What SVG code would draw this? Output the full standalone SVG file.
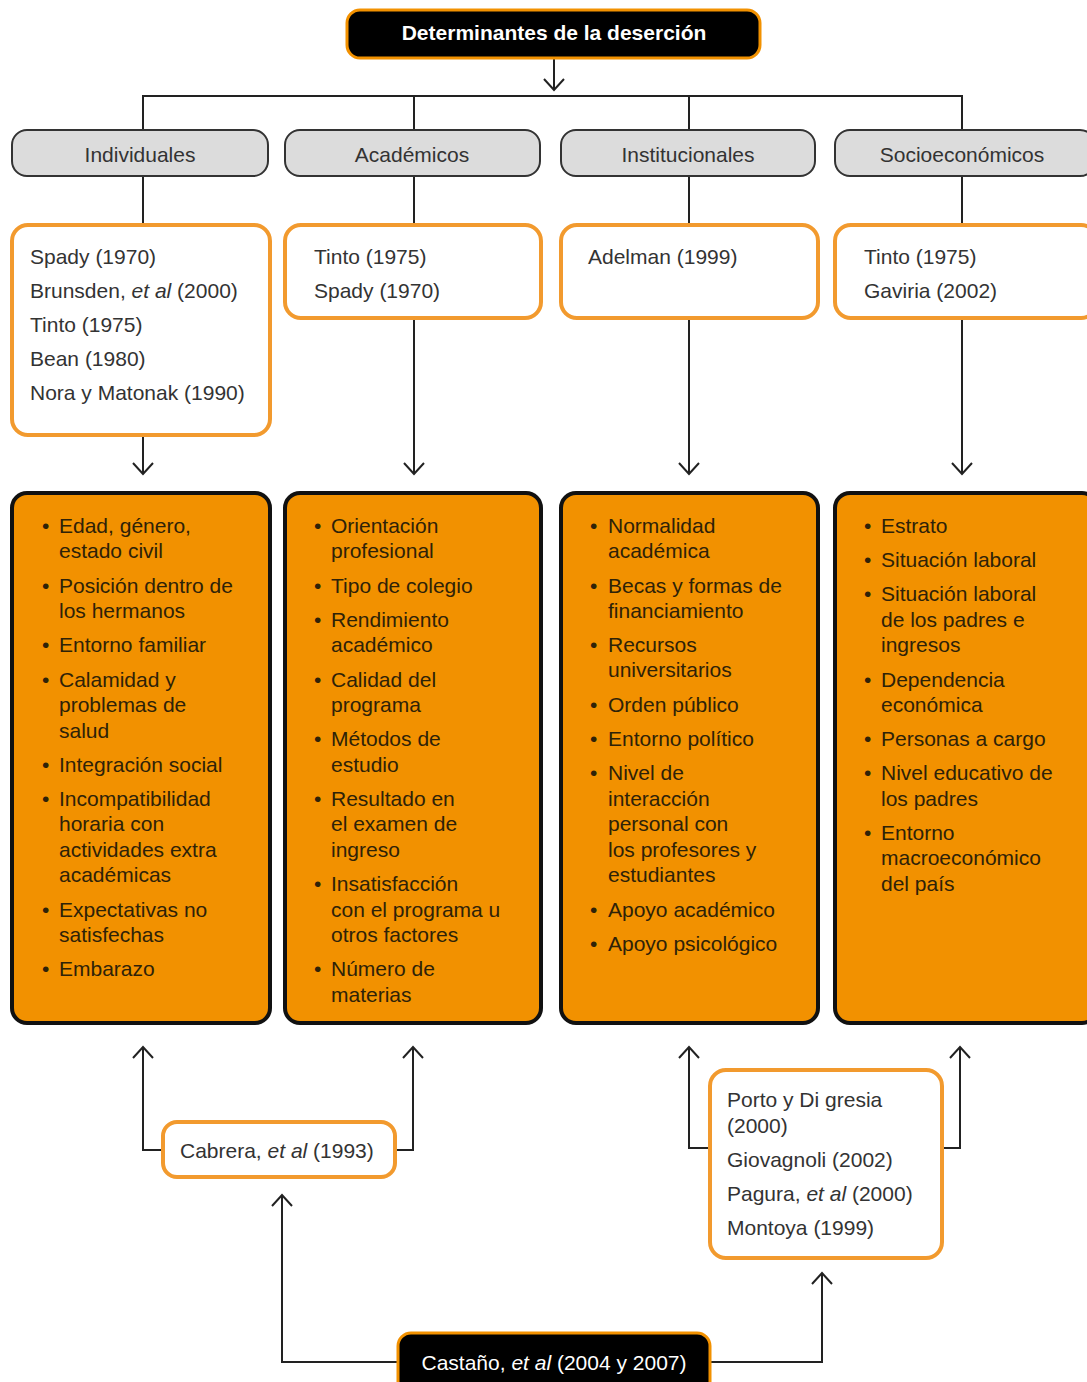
<svg xmlns="http://www.w3.org/2000/svg" width="1087" height="1382" viewBox="0 0 1087 1382">
<style>
text{font-family:"Liberation Sans",Arial,sans-serif;font-size:21px;}
.dark{fill:#000;stroke:#f29100;stroke-width:3;}
.cat{fill:#dcdcdc;stroke:#333;stroke-width:2;}
.ref{fill:#fff;stroke:#f29a2e;stroke-width:4;}
.det{fill:#f29100;stroke:#111;stroke-width:4;}
.wt{fill:#fff;}
.ct{fill:#333;text-anchor:middle;}
.rt{fill:#333;}
.dt{fill:#2e2208;}
.it{font-style:italic;}
.ln{fill:none;stroke:#222;stroke-width:2;}
</style>
<defs>
<marker id="ah" viewBox="-14 -12 16 24" markerWidth="16" markerHeight="24" refX="0" refY="0" orient="auto" markerUnits="userSpaceOnUse">
<path d="M-11,-10 L0,0 L-11,10" fill="none" stroke="#222" stroke-width="2"/>
</marker>
</defs>

<g id="connectors">
<path class="ln" d="M554,58 V90" marker-end="url(#ah)"/>
<path class="ln" d="M143,130 V96 H962 V130"/>
<path class="ln" d="M414,96 V130"/>
<path class="ln" d="M689,96 V130"/>
<path class="ln" d="M143,176 V225"/>
<path class="ln" d="M414,176 V225"/>
<path class="ln" d="M689,176 V225"/>
<path class="ln" d="M962,176 V225"/>
<path class="ln" d="M143,435 V474" marker-end="url(#ah)"/>
<path class="ln" d="M414,318 V474" marker-end="url(#ah)"/>
<path class="ln" d="M689,318 V474" marker-end="url(#ah)"/>
<path class="ln" d="M962,318 V474" marker-end="url(#ah)"/>
<path class="ln" d="M163,1150 H143 V1047" marker-end="url(#ah)"/>
<path class="ln" d="M395,1150 H413 V1047" marker-end="url(#ah)"/>
<path class="ln" d="M710,1148 H689 V1047" marker-end="url(#ah)"/>
<path class="ln" d="M942,1148 H960 V1047" marker-end="url(#ah)"/>
<path class="ln" d="M398,1362 H282 V1195" marker-end="url(#ah)"/>
<path class="ln" d="M710,1362 H822 V1273" marker-end="url(#ah)"/>
</g>

<g id="title">
<rect class="dark" x="347" y="10" width="413" height="48" rx="13"/>
<text class="wt" x="554" y="40" text-anchor="middle" font-weight="bold" font-size="21">Determinantes de la deserción</text>
</g>

<g id="cat-individuales">
<rect class="cat" x="12" y="130" width="256" height="46" rx="15"/>
<text class="ct" x="140" y="162">Individuales</text>
</g>
<g id="cat-academicos">
<rect class="cat" x="285" y="130" width="255" height="46" rx="15"/>
<text class="ct" x="412" y="162">Académicos</text>
</g>
<g id="cat-institucionales">
<rect class="cat" x="561" y="130" width="254" height="46" rx="15"/>
<text class="ct" x="688" y="162">Institucionales</text>
</g>
<g id="cat-socioeconomicos">
<rect class="cat" x="835" y="130" width="260" height="46" rx="15"/>
<text class="ct" x="962" y="162">Socioeconómicos</text>
</g>

<g id="ref-individuales">
<rect class="ref" x="12" y="225" width="258" height="210" rx="16"/>
<text class="rt" x="30" y="264">Spady (1970)</text>
<text class="rt" x="30" y="298">Brunsden, <tspan class="it">et al</tspan> (2000)</text>
<text class="rt" x="30" y="332">Tinto (1975)</text>
<text class="rt" x="30" y="366">Bean (1980)</text>
<text class="rt" x="30" y="400">Nora y Matonak (1990)</text>
</g>
<g id="ref-academicos">
<rect class="ref" x="285" y="225" width="256" height="93" rx="16"/>
<text class="rt" x="314" y="264">Tinto (1975)</text>
<text class="rt" x="314" y="298">Spady (1970)</text>
</g>
<g id="ref-institucionales">
<rect class="ref" x="561" y="225" width="257" height="93" rx="16"/>
<text class="rt" x="588" y="264">Adelman (1999)</text>
</g>
<g id="ref-socioeconomicos">
<rect class="ref" x="835" y="225" width="262" height="93" rx="16"/>
<text class="rt" x="864" y="264">Tinto (1975)</text>
<text class="rt" x="864" y="298">Gaviria (2002)</text>
</g>

<g id="det-individuales">
<rect class="det" x="12" y="493" width="258" height="530" rx="15"/>
<g class="dt">
<text x="42" y="533">•</text><text x="59" y="533">Edad, género,</text>
<text x="59" y="558">estado civil</text>
<text x="42" y="593">•</text><text x="59" y="593">Posición dentro de</text>
<text x="59" y="618">los hermanos</text>
<text x="42" y="652">•</text><text x="59" y="652">Entorno familiar</text>
<text x="42" y="687">•</text><text x="59" y="687">Calamidad y</text>
<text x="59" y="712">problemas de</text>
<text x="59" y="738">salud</text>
<text x="42" y="772">•</text><text x="59" y="772">Integración social</text>
<text x="42" y="806">•</text><text x="59" y="806">Incompatibilidad</text>
<text x="59" y="831">horaria con</text>
<text x="59" y="857">actividades extra</text>
<text x="59" y="882">académicas</text>
<text x="42" y="917">•</text><text x="59" y="917">Expectativas no</text>
<text x="59" y="942">satisfechas</text>
<text x="42" y="976">•</text><text x="59" y="976">Embarazo</text>
</g>
</g>

<g id="det-academicos">
<rect class="det" x="285" y="493" width="256" height="530" rx="15"/>
<g class="dt">
<text x="314" y="533">•</text><text x="331" y="533">Orientación</text>
<text x="331" y="558">profesional</text>
<text x="314" y="593">•</text><text x="331" y="593">Tipo de colegio</text>
<text x="314" y="627">•</text><text x="331" y="627">Rendimiento</text>
<text x="331" y="652">académico</text>
<text x="314" y="687">•</text><text x="331" y="687">Calidad del</text>
<text x="331" y="712">programa</text>
<text x="314" y="746">•</text><text x="331" y="746">Métodos de</text>
<text x="331" y="772">estudio</text>
<text x="314" y="806">•</text><text x="331" y="806">Resultado en</text>
<text x="331" y="831">el examen de</text>
<text x="331" y="857">ingreso</text>
<text x="314" y="891">•</text><text x="331" y="891">Insatisfacción</text>
<text x="331" y="917">con el programa u</text>
<text x="331" y="942">otros factores</text>
<text x="314" y="976">•</text><text x="331" y="976">Número de</text>
<text x="331" y="1002">materias</text>
</g>
</g>

<g id="det-institucionales">
<rect class="det" x="561" y="493" width="257" height="530" rx="15"/>
<g class="dt">
<text x="590" y="533">•</text><text x="608" y="533">Normalidad</text>
<text x="608" y="558">académica</text>
<text x="590" y="593">•</text><text x="608" y="593">Becas y formas de</text>
<text x="608" y="618">financiamiento</text>
<text x="590" y="652">•</text><text x="608" y="652">Recursos</text>
<text x="608" y="677">universitarios</text>
<text x="590" y="712">•</text><text x="608" y="712">Orden público</text>
<text x="590" y="746">•</text><text x="608" y="746">Entorno político</text>
<text x="590" y="780">•</text><text x="608" y="780">Nivel de</text>
<text x="608" y="806">interacción</text>
<text x="608" y="831">personal con</text>
<text x="608" y="857">los profesores y</text>
<text x="608" y="882">estudiantes</text>
<text x="590" y="917">•</text><text x="608" y="917">Apoyo académico</text>
<text x="590" y="951">•</text><text x="608" y="951">Apoyo psicológico</text>
</g>
</g>

<g id="det-socioeconomicos">
<rect class="det" x="835" y="493" width="262" height="530" rx="15"/>
<g class="dt">
<text x="864" y="533">•</text><text x="881" y="533">Estrato</text>
<text x="864" y="567">•</text><text x="881" y="567">Situación laboral</text>
<text x="864" y="601">•</text><text x="881" y="601">Situación laboral</text>
<text x="881" y="627">de los padres e</text>
<text x="881" y="652">ingresos</text>
<text x="864" y="687">•</text><text x="881" y="687">Dependencia</text>
<text x="881" y="712">económica</text>
<text x="864" y="746">•</text><text x="881" y="746">Personas a cargo</text>
<text x="864" y="780">•</text><text x="881" y="780">Nivel educativo de</text>
<text x="881" y="806">los padres</text>
<text x="864" y="840">•</text><text x="881" y="840">Entorno</text>
<text x="881" y="865">macroeconómico</text>
<text x="881" y="891">del país</text>
</g>
</g>

<g id="ref-cabrera">
<rect class="ref" x="163" y="1122" width="232" height="55" rx="14"/>
<text class="rt" x="180" y="1158">Cabrera, <tspan class="it">et al</tspan> (1993)</text>
</g>

<g id="ref-porto">
<rect class="ref" x="710" y="1070" width="232" height="188" rx="16"/>
<text class="rt" x="727" y="1107">Porto y Di gresia</text>
<text class="rt" x="727" y="1133">(2000)</text>
<text class="rt" x="727" y="1167">Giovagnoli (2002)</text>
<text class="rt" x="727" y="1201">Pagura, <tspan class="it">et al</tspan> (2000)</text>
<text class="rt" x="727" y="1235">Montoya (1999)</text>
</g>

<g id="castano">
<rect class="dark" x="398" y="1333" width="312" height="62" rx="13"/>
<text class="wt" x="554" y="1370" text-anchor="middle">Castaño, <tspan class="it">et al</tspan> (2004 y 2007)</text>
</g>
</svg>
